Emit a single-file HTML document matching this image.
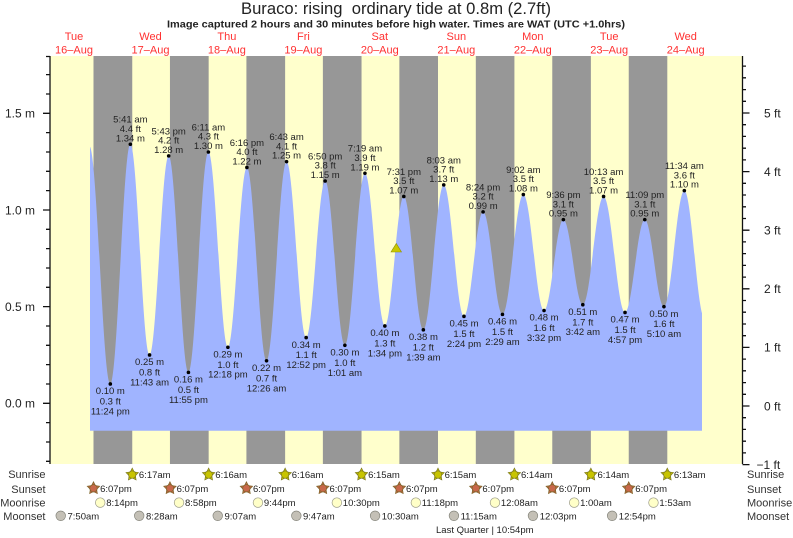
<!DOCTYPE html>
<html><head><meta charset="utf-8"><style>
html,body{margin:0;padding:0;background:#fff;}
svg{display:block;font-family:"Liberation Sans",Arial,sans-serif;}
.tl{font-size:9.5px;fill:#222;text-anchor:middle;}
.bt{font-size:9.5px;fill:#222;}
.rl{font-size:11px;fill:#333;}
.ax{font-size:12px;fill:#222;}
.day{font-size:11px;fill:#ff3030;text-anchor:middle;}
</style></head><body>
<svg width="793" height="538" viewBox="0 0 793 538" xmlns="http://www.w3.org/2000/svg">
<defs>
<g id="ss"><polygon points="0,-6.5 1.94,-2.67 6.18,-2.01 3.14,1.02 3.82,5.26 0,3.3 -3.82,5.26 -3.14,1.02 -6.18,-2.01 -1.94,-2.67"/><circle r="3.7"/></g>
<clipPath id="cp"><rect x="90" y="50" width="612" height="400"/></clipPath>
</defs>
<rect width="793" height="538" fill="#fff"/>
<!-- title -->
<text x="396" y="14" font-size="16.5" fill="#222" text-anchor="middle" style="white-space:pre" textLength="310" lengthAdjust="spacingAndGlyphs">Buraco: rising  ordinary tide at 0.8m (2.7ft)</text>
<text x="396" y="27.5" font-size="10.5" font-weight="bold" fill="#222" text-anchor="middle" textLength="458" lengthAdjust="spacingAndGlyphs">Image captured 2 hours and 30 minutes before high water. Times are WAT (UTC +1.0hrs)</text>
<!-- day labels -->
<g class="day">
<text x="74" y="40">Tue</text><text x="74" y="53.3">16–Aug</text>
<text x="150.5" y="40">Wed</text><text x="150.5" y="53.3">17–Aug</text>
<text x="226.9" y="40">Thu</text><text x="226.9" y="53.3">18–Aug</text>
<text x="303.4" y="40">Fri</text><text x="303.4" y="53.3">19–Aug</text>
<text x="379.8" y="40">Sat</text><text x="379.8" y="53.3">20–Aug</text>
<text x="456.3" y="40">Sun</text><text x="456.3" y="53.3">21–Aug</text>
<text x="532.8" y="40">Mon</text><text x="532.8" y="53.3">22–Aug</text>
<text x="609.2" y="40">Tue</text><text x="609.2" y="53.3">23–Aug</text>
<text x="685.7" y="40">Wed</text><text x="685.7" y="53.3">24–Aug</text>
</g>
<!-- plot background -->
<rect x="50" y="56" width="692.5" height="408" fill="#ffffcc"/>
<g fill="#979797">
<rect x="93.49" y="56" width="38.76" height="408"/>
<rect x="169.95" y="56" width="38.71" height="408"/>
<rect x="246.42" y="56" width="38.71" height="408"/>
<rect x="322.88" y="56" width="38.66" height="408"/>
<rect x="399.35" y="56" width="38.65" height="408"/>
<rect x="475.81" y="56" width="38.6" height="408"/>
<rect x="552.27" y="56" width="38.61" height="408"/>
<rect x="628.74" y="56" width="38.55" height="408"/>
</g>
<!-- tide fill -->
<path clip-path="url(#cp)" fill="#a0b4ff" d="M89.40,146.2
C97.01,146.2 102.71,383.97 110.32,383.97
C117.61,383.97 123.05,144.28 130.34,144.28
C137.34,144.28 142.56,354.98 149.56,354.98
C156.52,354.98 161.72,155.88 168.68,155.88
C175.87,155.88 181.24,372.37 188.43,372.37
C195.70,372.37 201.13,151.99 208.40,151.99
C215.49,151.99 220.80,347.24 227.89,347.24
C234.81,347.24 239.98,167.47 246.90,167.47
C254.05,167.47 259.39,360.77 266.54,360.77
C273.83,360.77 279.27,161.68 286.56,161.68
C293.69,161.68 299.03,337.58 306.16,337.58
C313.08,337.58 318.24,180.99 325.16,180.99
C332.33,180.99 337.70,345.31 344.87,345.31
C352.18,345.31 357.63,173.27 364.94,173.27
C372.19,173.27 377.60,325.98 384.85,325.98
C391.75,325.98 396.91,196.47 403.81,196.47
C410.92,196.47 416.24,329.85 423.35,329.85
C430.77,329.85 436.32,184.87 443.74,184.87
C451.10,184.87 456.61,316.32 463.97,316.32
C470.93,316.32 476.12,211.93 483.08,211.93
C490.13,211.93 495.41,314.38 502.46,314.38
C510.06,314.38 515.73,194.54 523.33,194.54
C530.87,194.54 536.50,310.52 544.04,310.52
C551.08,310.52 556.33,219.67 563.37,219.67
C570.45,219.67 575.73,304.72 582.81,304.72
C590.37,304.72 596.01,196.47 603.57,196.47
C611.38,196.47 617.21,312.45 625.02,312.45
C632.21,312.45 637.58,219.67 644.77,219.67
C651.75,219.67 656.96,306.65 663.94,306.65
C671.36,306.65 676.91,190.67 684.33,190.67
C691.70,190.67 697.20,318.25 704.57,318.25
L704.57,430.7 L89.4,430.7 Z"/>
<!-- now marker -->
<polygon points="396.3,243.5 401.5,252 391,252" fill="#c8c800" stroke="#8f8f00" stroke-width="0.6"/>
<!-- high labels -->
<g fill="#000">
<circle cx="130.34" cy="144.28" r="1.8"/><circle cx="168.68" cy="155.88" r="1.8"/><circle cx="208.40" cy="151.99" r="1.8"/><circle cx="246.90" cy="167.47" r="1.8"/><circle cx="286.56" cy="161.68" r="1.8"/><circle cx="325.16" cy="180.99" r="1.8"/><circle cx="364.94" cy="173.27" r="1.8"/><circle cx="403.81" cy="196.47" r="1.8"/><circle cx="443.74" cy="184.87" r="1.8"/><circle cx="483.08" cy="211.93" r="1.8"/><circle cx="523.33" cy="194.54" r="1.8"/><circle cx="563.37" cy="219.67" r="1.8"/><circle cx="603.57" cy="196.47" r="1.8"/><circle cx="644.77" cy="219.67" r="1.8"/><circle cx="684.33" cy="190.67" r="1.8"/>
<circle cx="110.32" cy="383.97" r="1.8"/><circle cx="149.56" cy="354.98" r="1.8"/><circle cx="188.43" cy="372.37" r="1.8"/><circle cx="227.89" cy="347.24" r="1.8"/><circle cx="266.54" cy="360.77" r="1.8"/><circle cx="306.16" cy="337.58" r="1.8"/><circle cx="344.87" cy="345.31" r="1.8"/><circle cx="384.85" cy="325.98" r="1.8"/><circle cx="423.35" cy="329.85" r="1.8"/><circle cx="463.97" cy="316.32" r="1.8"/><circle cx="502.46" cy="314.38" r="1.8"/><circle cx="544.04" cy="310.52" r="1.8"/><circle cx="582.81" cy="304.72" r="1.8"/><circle cx="625.02" cy="312.45" r="1.8"/><circle cx="663.94" cy="306.65" r="1.8"/>
</g>
<g class="tl">
<g transform="translate(130.34,144.28)"><text y="-21.6">5:41 am</text><text y="-12.3">4.4 ft</text><text y="-3">1.34 m</text></g>
<g transform="translate(168.68,155.88)"><text y="-21.6">5:43 pm</text><text y="-12.3">4.2 ft</text><text y="-3">1.28 m</text></g>
<g transform="translate(208.40,151.99)"><text y="-21.6">6:11 am</text><text y="-12.3">4.3 ft</text><text y="-3">1.30 m</text></g>
<g transform="translate(246.90,167.47)"><text y="-21.6">6:16 pm</text><text y="-12.3">4.0 ft</text><text y="-3">1.22 m</text></g>
<g transform="translate(286.56,161.68)"><text y="-21.6">6:43 am</text><text y="-12.3">4.1 ft</text><text y="-3">1.25 m</text></g>
<g transform="translate(325.16,180.99)"><text y="-21.6">6:50 pm</text><text y="-12.3">3.8 ft</text><text y="-3">1.15 m</text></g>
<g transform="translate(364.94,173.27)"><text y="-21.6">7:19 am</text><text y="-12.3">3.9 ft</text><text y="-3">1.19 m</text></g>
<g transform="translate(403.81,196.47)"><text y="-21.6">7:31 pm</text><text y="-12.3">3.5 ft</text><text y="-3">1.07 m</text></g>
<g transform="translate(443.74,184.87)"><text y="-21.6">8:03 am</text><text y="-12.3">3.7 ft</text><text y="-3">1.13 m</text></g>
<g transform="translate(483.08,211.93)"><text y="-21.6">8:24 pm</text><text y="-12.3">3.2 ft</text><text y="-3">0.99 m</text></g>
<g transform="translate(523.33,194.54)"><text y="-21.6">9:02 am</text><text y="-12.3">3.5 ft</text><text y="-3">1.08 m</text></g>
<g transform="translate(563.37,219.67)"><text y="-21.6">9:36 pm</text><text y="-12.3">3.1 ft</text><text y="-3">0.95 m</text></g>
<g transform="translate(603.57,196.47)"><text y="-21.6">10:13 am</text><text y="-12.3">3.5 ft</text><text y="-3">1.07 m</text></g>
<g transform="translate(644.77,219.67)"><text y="-21.6">11:09 pm</text><text y="-12.3">3.1 ft</text><text y="-3">0.95 m</text></g>
<g transform="translate(684.33,190.67)"><text y="-21.6">11:34 am</text><text y="-12.3">3.6 ft</text><text y="-3">1.10 m</text></g>
<!-- lows -->
<g transform="translate(110.32,383.97)"><text y="10.2">0.10 m</text><text y="20.6">0.3 ft</text><text y="30.5">11:24 pm</text></g>
<g transform="translate(149.56,354.98)"><text y="10.2">0.25 m</text><text y="20.6">0.8 ft</text><text y="30.5">11:43 am</text></g>
<g transform="translate(188.43,372.37)"><text y="10.2">0.16 m</text><text y="20.6">0.5 ft</text><text y="30.5">11:55 pm</text></g>
<g transform="translate(227.89,347.24)"><text y="10.2">0.29 m</text><text y="20.6">1.0 ft</text><text y="30.5">12:18 pm</text></g>
<g transform="translate(266.54,360.77)"><text y="10.2">0.22 m</text><text y="20.6">0.7 ft</text><text y="30.5">12:26 am</text></g>
<g transform="translate(306.16,337.58)"><text y="10.2">0.34 m</text><text y="20.6">1.1 ft</text><text y="30.5">12:52 pm</text></g>
<g transform="translate(344.87,345.31)"><text y="10.2">0.30 m</text><text y="20.6">1.0 ft</text><text y="30.5">1:01 am</text></g>
<g transform="translate(384.85,325.98)"><text y="10.2">0.40 m</text><text y="20.6">1.3 ft</text><text y="30.5">1:34 pm</text></g>
<g transform="translate(423.35,329.85)"><text y="10.2">0.38 m</text><text y="20.6">1.2 ft</text><text y="30.5">1:39 am</text></g>
<g transform="translate(463.97,316.32)"><text y="10.2">0.45 m</text><text y="20.6">1.5 ft</text><text y="30.5">2:24 pm</text></g>
<g transform="translate(502.46,314.38)"><text y="10.2">0.46 m</text><text y="20.6">1.5 ft</text><text y="30.5">2:29 am</text></g>
<g transform="translate(544.04,310.52)"><text y="10.2">0.48 m</text><text y="20.6">1.6 ft</text><text y="30.5">3:32 pm</text></g>
<g transform="translate(582.81,304.72)"><text y="10.2">0.51 m</text><text y="20.6">1.7 ft</text><text y="30.5">3:42 am</text></g>
<g transform="translate(625.02,312.45)"><text y="10.2">0.47 m</text><text y="20.6">1.5 ft</text><text y="30.5">4:57 pm</text></g>
<g transform="translate(663.94,306.65)"><text y="10.2">0.50 m</text><text y="20.6">1.6 ft</text><text y="30.5">5:10 am</text></g>
</g>
<!-- axes -->
<g stroke="#111" stroke-width="1.3" fill="none">
<path d="M50,56V464 M742.5,56V464"/>
<path d="M43,403.3H50 M43,306.6H50 M43,210H50 M43,113.3H50"/>
<path d="M46,461.3H50 M46,442H50 M46,422.6H50 M46,384H50 M46,364.6H50 M46,345.3H50 M46,326H50 M46,287.3H50 M46,268H50 M46,248.6H50 M46,229.3H50 M46,190.6H50 M46,171.3H50 M46,152H50 M46,132.6H50 M46,94H50 M46,74.6H50 M46,56.5H50"/>
<path d="M742.5,464.6H749.5 M742.5,406H749.5 M742.5,347.4H749.5 M742.5,288.8H749.5 M742.5,230.2H749.5 M742.5,171.6H749.5 M742.5,113H749.5"/>
<path d="M742.5,452.9H746 M742.5,441.2H746 M742.5,429.4H746 M742.5,417.7H746 M742.5,394.3H746 M742.5,382.6H746 M742.5,370.8H746 M742.5,359.1H746 M742.5,335.7H746 M742.5,324H746 M742.5,312.2H746 M742.5,300.5H746 M742.5,277.1H746 M742.5,265.4H746 M742.5,253.6H746 M742.5,241.9H746 M742.5,218.5H746 M742.5,206.8H746 M742.5,195H746 M742.5,183.3H746 M742.5,159.9H746 M742.5,148.2H746 M742.5,136.4H746 M742.5,124.7H746 M742.5,101.3H746 M742.5,89.6H746 M742.5,77.8H746 M742.5,66.1H746"/>
</g>
<g class="ax" text-anchor="end">
<text x="35" y="117.6">1.5 m</text>
<text x="35" y="214.3">1.0 m</text>
<text x="35" y="310.9">0.5 m</text>
<text x="35" y="407.6">0.0 m</text>
</g>
<g class="ax">
<text x="764" y="117.3">5 ft</text>
<text x="764" y="175.9">4 ft</text>
<text x="764" y="234.5">3 ft</text>
<text x="764" y="293.1">2 ft</text>
<text x="764" y="351.7">1 ft</text>
<text x="764" y="410.3">0 ft</text>
<text x="756.5" y="468.9">−1 ft</text>
</g>
<!-- bottom rows -->
<g class="rl" text-anchor="end">
<text x="45.5" y="478">Sunrise</text>
<text x="45.5" y="493">Sunset</text>
<text x="45.5" y="506.3">Moonrise</text>
<text x="45.5" y="520">Moonset</text>
</g>
<g class="rl">
<text x="747" y="478">Sunrise</text>
<text x="747" y="493">Sunset</text>
<text x="747" y="506.3">Moonrise</text>
<text x="747" y="520">Moonset</text>
</g>
<g fill="#c8c400" stroke="#7d7a20" stroke-width="0.7">
<use href="#ss" x="132.25" y="474.6"/><use href="#ss" x="208.66" y="474.6"/><use href="#ss" x="285.13" y="474.6"/><use href="#ss" x="361.54" y="474.6"/><use href="#ss" x="438" y="474.6"/><use href="#ss" x="514.41" y="474.6"/><use href="#ss" x="590.88" y="474.6"/><use href="#ss" x="667.29" y="474.6"/>
</g>
<g fill="#c8684a" stroke="#7d6428" stroke-width="0.7">
<use href="#ss" x="93.49" y="488.3"/><use href="#ss" x="169.95" y="488.3"/><use href="#ss" x="246.42" y="488.3"/><use href="#ss" x="322.88" y="488.3"/><use href="#ss" x="399.35" y="488.3"/><use href="#ss" x="475.81" y="488.3"/><use href="#ss" x="552.27" y="488.3"/><use href="#ss" x="628.74" y="488.3"/>
</g>
<g fill="#ffffc8" stroke="#9a9a88" stroke-width="0.7">
<circle cx="100.23" cy="502.6" r="4.8"/><circle cx="179.04" cy="502.6" r="4.8"/><circle cx="257.94" cy="502.6" r="4.8"/><circle cx="336.85" cy="502.6" r="4.8"/><circle cx="415.86" cy="502.6" r="4.8"/><circle cx="494.98" cy="502.6" r="4.8"/><circle cx="574.2" cy="502.6" r="4.8"/><circle cx="653.48" cy="502.6" r="4.8"/>
</g>
<g fill="#c4c0b6" stroke="#85857c" stroke-width="0.7">
<circle cx="60.73" cy="515.8" r="4.8"/><circle cx="139.21" cy="515.8" r="4.8"/><circle cx="217.74" cy="515.8" r="4.8"/><circle cx="296.33" cy="515.8" r="4.8"/><circle cx="375.08" cy="515.8" r="4.8"/><circle cx="453.93" cy="515.8" r="4.8"/><circle cx="532.95" cy="515.8" r="4.8"/><circle cx="612.12" cy="515.8" r="4.8"/>
</g>
<g class="bt">
<text x="138.9" y="478">6:17am</text><text x="215.3" y="478">6:16am</text><text x="291.7" y="478">6:16am</text><text x="368.1" y="478">6:15am</text><text x="444.6" y="478">6:15am</text><text x="521" y="478">6:14am</text><text x="597.5" y="478">6:14am</text><text x="673.9" y="478">6:13am</text>
<text x="100.1" y="492">6:07pm</text><text x="176.6" y="492">6:07pm</text><text x="253" y="492">6:07pm</text><text x="329.5" y="492">6:07pm</text><text x="406" y="492">6:07pm</text><text x="482.4" y="492">6:07pm</text><text x="558.9" y="492">6:07pm</text><text x="635.3" y="492">6:07pm</text>
<text x="106.2" y="506">8:14pm</text><text x="185" y="506">8:58pm</text><text x="263.9" y="506">9:44pm</text><text x="342.8" y="506">10:30pm</text><text x="421.8" y="506">11:18pm</text><text x="500.9" y="506">12:08am</text><text x="580.1" y="506">1:00am</text><text x="659.4" y="506">1:53am</text>
<text x="67.5" y="519.3">7:50am</text><text x="146" y="519.3">8:28am</text><text x="224.5" y="519.3">9:07am</text><text x="303" y="519.3">9:47am</text><text x="381.8" y="519.3">10:30am</text><text x="460.6" y="519.3">11:15am</text><text x="539.7" y="519.3">12:03pm</text><text x="618.8" y="519.3">12:54pm</text>
<text x="436" y="533">Last Quarter | 10:54pm</text>
</g>
</svg>
</body></html>
